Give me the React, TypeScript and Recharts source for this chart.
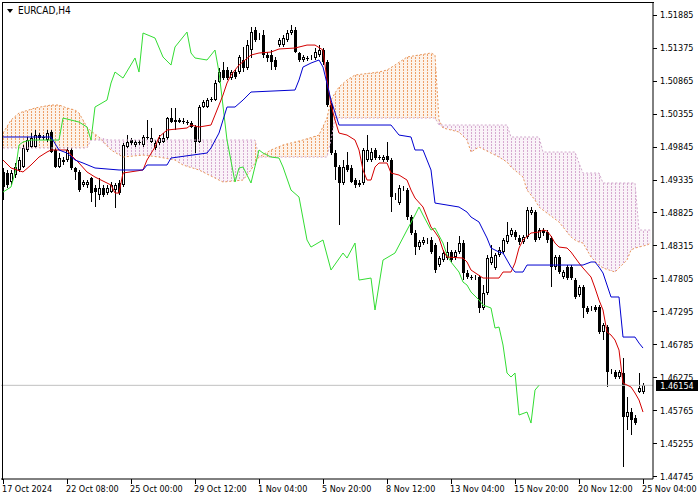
import React from 'react';
import { ComposedChart, Bar, Line, Area, XAxis, YAxis, ReferenceLine } from 'recharts';

// EURCAD H4 candles, bar 0 = left edge of the window
const opens = [
  1.49451, 1.49435, 1.49296, 1.49404, 1.49482, 1.49528, 1.49791, 1.49837, 1.49837, 1.50022,
  1.49992, 1.49945, 1.50069, 1.49791, 1.49528, 1.49605, 1.49636, 1.49791, 1.49513, 1.49451,
  1.49250, 1.49250, 1.49358, 1.49203, 1.49095, 1.49203, 1.49126, 1.49141, 1.49172, 1.49281,
  1.49250, 1.49837, 1.49945, 1.49868, 1.49914, 1.49868, 1.49992, 1.49914, 1.49822, 1.49899,
  1.49914, 1.49976, 1.50285, 1.50223, 1.50254, 1.50239, 1.50223, 1.50208, 1.50146, 1.49914,
  1.50455, 1.50455, 1.50579, 1.50563, 1.50842, 1.51027, 1.51027, 1.50903, 1.50996, 1.50996,
  1.51182, 1.51058, 1.51336, 1.51645, 1.51522, 1.51568, 1.51259, 1.51259, 1.51182, 1.51413,
  1.51413, 1.51491, 1.51599, 1.51645, 1.51290, 1.51182, 1.51213, 1.51213, 1.51213, 1.51259,
  1.51336, 1.51151, 1.50486, 1.49744, 1.49528, 1.49281, 1.49559, 1.49513, 1.49327, 1.49250,
  1.49281, 1.49636, 1.49636, 1.49791, 1.49682, 1.49636, 1.49698, 1.49636, 1.49064, 1.48971,
  1.49188, 1.49172, 1.48755, 1.48508, 1.48291, 1.48353, 1.48369, 1.48400, 1.48322, 1.48013,
  1.48090, 1.48121, 1.48214, 1.48137, 1.48214, 1.48353, 1.47890, 1.47828, 1.47812, 1.47828,
  1.47349, 1.47580, 1.48044, 1.47967, 1.48168, 1.48214, 1.48369, 1.48477, 1.48523, 1.48431,
  1.48369, 1.48446, 1.48817, 1.48832, 1.48431, 1.48554, 1.48523, 1.48431, 1.47982, 1.48137,
  1.47828, 1.47982, 1.47982, 1.47781, 1.47550, 1.47673, 1.47349, 1.47333, 1.47364, 1.47364,
  1.46978, 1.47055, 1.46359, 1.46359, 1.46282, 1.46344, 1.45664, 1.45741, 1.45648, 1.46050,
  1.46050,
];
const highs = [
  1.49513, 1.49482, 1.49482, 1.49590, 1.49682, 1.49868, 1.49992, 1.50053, 1.50100, 1.50053,
  1.50022, 1.50100, 1.50100, 1.49822, 1.49744, 1.49682, 1.49837, 1.49822, 1.49528, 1.49482,
  1.49327, 1.49327, 1.49373, 1.49250, 1.49358, 1.49250, 1.49250, 1.49296, 1.49281, 1.49327,
  1.49899, 1.50022, 1.49976, 1.49945, 1.49945, 1.50022, 1.50254, 1.50131, 1.49945, 1.50022,
  1.50053, 1.50301, 1.50440, 1.50440, 1.50285, 1.50285, 1.50254, 1.50239, 1.50177, 1.50486,
  1.50563, 1.50594, 1.50610, 1.50873, 1.51058, 1.51151, 1.51073, 1.51027, 1.51027, 1.51259,
  1.51383, 1.51491, 1.51692, 1.51692, 1.51599, 1.51645, 1.51305, 1.51336, 1.51228, 1.51522,
  1.51568, 1.51645, 1.51723, 1.51692, 1.51305, 1.51259, 1.51243, 1.51259, 1.51367, 1.51413,
  1.51367, 1.51182, 1.50517, 1.49791, 1.49559, 1.49636, 1.49760, 1.49559, 1.49358, 1.49327,
  1.49822, 1.50022, 1.49822, 1.49822, 1.49713, 1.49713, 1.49914, 1.49667, 1.49126, 1.49250,
  1.49234, 1.49203, 1.48786, 1.48554, 1.48400, 1.48446, 1.48431, 1.48446, 1.48353, 1.48152,
  1.48245, 1.48369, 1.48245, 1.48245, 1.48461, 1.48400, 1.47936, 1.47859, 1.47859, 1.47859,
  1.47704, 1.48168, 1.48322, 1.48199, 1.48291, 1.48431, 1.48678, 1.48585, 1.48554, 1.48477,
  1.48477, 1.48910, 1.48910, 1.48863, 1.48585, 1.48585, 1.48554, 1.48461, 1.48168, 1.48168,
  1.47936, 1.48013, 1.48013, 1.47812, 1.47704, 1.47704, 1.47380, 1.47380, 1.47395, 1.47395,
  1.47117, 1.47086, 1.46406, 1.46390, 1.46390, 1.46576, 1.45973, 1.45803, 1.45695, 1.46344,
  1.46189,
];
const lows = [
  1.49018, 1.49203, 1.49250, 1.49358, 1.49451, 1.49513, 1.49760, 1.49822, 1.49822, 1.49945,
  1.49945, 1.49914, 1.49744, 1.49513, 1.49513, 1.49559, 1.49605, 1.49482, 1.49327, 1.49141,
  1.49219, 1.49203, 1.48987, 1.48910, 1.49018, 1.49064, 1.49095, 1.49126, 1.48894, 1.49095,
  1.49219, 1.49822, 1.49868, 1.49837, 1.49868, 1.49837, 1.49945, 1.49899, 1.49791, 1.49868,
  1.49899, 1.49945, 1.50208, 1.50100, 1.50208, 1.50193, 1.50177, 1.50131, 1.49744, 1.49899,
  1.50440, 1.50440, 1.50532, 1.50548, 1.50826, 1.50873, 1.50873, 1.50873, 1.50888, 1.50965,
  1.50996, 1.51027, 1.51213, 1.51460, 1.51491, 1.51213, 1.51151, 1.51027, 1.51027, 1.51383,
  1.51383, 1.51460, 1.51568, 1.51290, 1.51151, 1.51151, 1.51166, 1.51182, 1.51182, 1.51228,
  1.51104, 1.50455, 1.49713, 1.49327, 1.48631, 1.49250, 1.49451, 1.49281, 1.49203, 1.49219,
  1.49250, 1.49605, 1.49605, 1.49636, 1.49636, 1.49605, 1.49605, 1.48832, 1.49018, 1.48940,
  1.49157, 1.48709, 1.48477, 1.48168, 1.48245, 1.48322, 1.48338, 1.48183, 1.47890, 1.47982,
  1.48060, 1.48090, 1.48060, 1.48090, 1.48183, 1.47781, 1.47797, 1.47781, 1.47781, 1.47271,
  1.47318, 1.47550, 1.48013, 1.47936, 1.48137, 1.48183, 1.48338, 1.48446, 1.48400, 1.48322,
  1.48338, 1.48415, 1.48786, 1.48369, 1.48400, 1.48461, 1.48353, 1.47673, 1.47936, 1.47874,
  1.47797, 1.47781, 1.47781, 1.47488, 1.47519, 1.47194, 1.47256, 1.47302, 1.47287, 1.46947,
  1.46854, 1.46128, 1.46329, 1.46251, 1.46251, 1.44891, 1.45463, 1.45386, 1.45540, 1.46035,
  1.46019,
];
const closes = [
  1.49219, 1.49250, 1.49435, 1.49528, 1.49636, 1.49822, 1.49945, 1.49976, 1.50022, 1.49976,
  1.49976, 1.50053, 1.49760, 1.49528, 1.49667, 1.49636, 1.49791, 1.49513, 1.49451, 1.49172,
  1.49296, 1.49296, 1.49126, 1.49141, 1.49203, 1.49095, 1.49203, 1.49250, 1.49250, 1.49126,
  1.49868, 1.49914, 1.49899, 1.49914, 1.49899, 1.49992, 1.49976, 1.49976, 1.49899, 1.49976,
  1.49976, 1.50285, 1.50223, 1.50254, 1.50223, 1.50223, 1.50208, 1.50146, 1.49914, 1.50455,
  1.50532, 1.50563, 1.50563, 1.50826, 1.50996, 1.50903, 1.50903, 1.50996, 1.50919, 1.51228,
  1.51058, 1.51413, 1.51614, 1.51491, 1.51537, 1.51259, 1.51213, 1.51151, 1.51073, 1.51491,
  1.51522, 1.51599, 1.51645, 1.51305, 1.51182, 1.51228, 1.51197, 1.51228, 1.51305, 1.51336,
  1.51151, 1.50486, 1.49744, 1.49528, 1.49281, 1.49528, 1.49482, 1.49296, 1.49250, 1.49281,
  1.49791, 1.49791, 1.49760, 1.49667, 1.49667, 1.49682, 1.49636, 1.49064, 1.49080, 1.49203,
  1.49203, 1.48755, 1.48508, 1.48291, 1.48369, 1.48400, 1.48384, 1.48214, 1.47936, 1.48121,
  1.48199, 1.48214, 1.48090, 1.48214, 1.48353, 1.47890, 1.47828, 1.47812, 1.47828, 1.47349,
  1.47580, 1.48121, 1.48137, 1.48168, 1.48245, 1.48400, 1.48477, 1.48554, 1.48446, 1.48369,
  1.48446, 1.48863, 1.48863, 1.48400, 1.48554, 1.48508, 1.48400, 1.47982, 1.48137, 1.47905,
  1.47905, 1.47812, 1.47812, 1.47519, 1.47673, 1.47349, 1.47287, 1.47349, 1.47318, 1.46978,
  1.47086, 1.46359, 1.46375, 1.46282, 1.46359, 1.45664, 1.45741, 1.45618, 1.45571, 1.46112,
  1.46154,
];

// Ichimoku lines, [bar, price]
const tenkanPts: [number, number][] = [
  [0, 1.49636], [2, 1.49513], [5, 1.49451], [7, 1.49559], [9, 1.49682], [11, 1.4976], [12, 1.49791],
  [16, 1.49791], [17, 1.49713], [19, 1.4959], [21, 1.49451], [23, 1.49373], [27, 1.4925], [28, 1.49126],
  [29, 1.49126], [30, 1.49435], [35, 1.49482], [36, 1.49636], [38, 1.49837], [39, 1.49992], [41, 1.501],
  [46, 1.50131], [47, 1.50177], [49, 1.50146], [52, 1.50177], [53, 1.50331], [54, 1.50486], [55, 1.50641],
  [56, 1.50826], [57, 1.5095], [59, 1.51104], [62, 1.51259], [64, 1.5129], [67, 1.51305], [69, 1.51352],
  [73, 1.51367], [76, 1.51413], [78, 1.51413], [80, 1.51336], [81, 1.50873], [82, 1.50486], [83, 1.50254],
  [84, 1.50053], [86, 1.50022], [88, 1.49945], [89, 1.49791], [90, 1.49482], [91, 1.49327], [92, 1.49327],
  [93, 1.49528], [94, 1.4959], [96, 1.4959], [97, 1.49435], [99, 1.49404], [101, 1.49327], [102, 1.49172],
  [103, 1.49049], [105, 1.4891], [106, 1.48755], [107, 1.48601], [108, 1.48523], [109, 1.48431],
  [110, 1.48245], [111, 1.48137], [115, 1.48121], [116, 1.4806], [117, 1.47936], [120, 1.47812],
  [124, 1.47812], [125, 1.47905], [127, 1.47905], [128, 1.48044], [129, 1.48276], [130, 1.484],
  [132, 1.48508], [134, 1.48523], [135, 1.48554], [136, 1.48539], [137, 1.48461], [138, 1.48353],
  [139, 1.48291], [141, 1.48276], [142, 1.48214], [144, 1.48044], [145, 1.47967], [147, 1.47828],
  [148, 1.47658], [149, 1.47472], [150, 1.47318], [151, 1.46978], [152, 1.46931], [153, 1.46854],
  [154, 1.46699], [155, 1.46189], [156, 1.46158], [157, 1.46128], [158, 1.46035], [159, 1.45927],
  [160, 1.45741],
];
const kijunPts: [number, number][] = [
  [0, 1.49992], [12, 1.49992], [14, 1.49791], [16, 1.49744], [18, 1.49636], [20, 1.4959], [23, 1.49513],
  [29, 1.49482], [35, 1.49482], [36, 1.49559], [41, 1.49559], [42, 1.49667], [51, 1.49744], [52, 1.49822],
  [54, 1.50053], [56, 1.50455], [58, 1.50455], [60, 1.50563], [62, 1.50687], [73, 1.50718], [74, 1.50873],
  [75, 1.51073], [77, 1.51135], [79, 1.51182], [80, 1.51073], [82, 1.50563], [84, 1.50177], [97, 1.50177],
  [99, 1.50022], [102, 1.49992], [103, 1.49791], [105, 1.49791], [107, 1.49482], [108, 1.48971],
  [114, 1.4891], [116, 1.48832], [117, 1.48755], [119, 1.48678], [120, 1.48554], [121, 1.48431],
  [122, 1.48276], [124, 1.48214], [125, 1.48199], [127, 1.47982], [128, 1.47905], [130, 1.47905],
  [131, 1.48013], [145, 1.48013], [147, 1.4806], [148, 1.4806], [149, 1.47982], [150, 1.4789],
  [151, 1.47704], [152, 1.47519], [154, 1.47519], [155, 1.469], [158, 1.469], [159, 1.46807], [160, 1.4673],
];
const chikouPts: [number, number][] = [
  [0, 1.49141], [2, 1.49219], [3, 1.49435], [4, 1.49868], [5, 1.49914], [7, 1.49945], [14, 1.49945],
  [15, 1.50285], [19, 1.50223], [21, 1.50146], [22, 1.49945], [23, 1.50455], [26, 1.50563], [27, 1.50826],
  [28, 1.50996], [30, 1.50903], [33, 1.51213], [34, 1.50996], [35, 1.51599], [38, 1.51522], [40, 1.51228],
  [42, 1.51104], [43, 1.51383], [46, 1.51614], [47, 1.5129], [48, 1.51213], [51, 1.51182], [53, 1.51336],
  [54, 1.50996], [56, 1.49945], [58, 1.49296], [59, 1.49513], [60, 1.49528], [61, 1.49404], [62, 1.49281],
  [64, 1.49791], [65, 1.49744], [67, 1.49682], [69, 1.49667], [70, 1.49528], [72, 1.49172], [74, 1.49064],
  [76, 1.484], [77, 1.48291], [80, 1.484], [82, 1.47936], [85, 1.48199], [86, 1.48121], [88, 1.48353],
  [89, 1.47781], [92, 1.47812], [93, 1.47318], [95, 1.4809], [98, 1.48199], [101, 1.48554], [103, 1.48786],
  [104, 1.4891], [105, 1.48786], [107, 1.48554], [108, 1.48585], [110, 1.48353], [111, 1.48168],
  [112, 1.4806], [114, 1.47905], [115, 1.4775], [116, 1.47704], [117, 1.47596], [119, 1.47472],
  [120, 1.47395], [122, 1.47349], [123, 1.47039], [124, 1.47055], [125, 1.46777], [126, 1.46344],
  [127, 1.46282], [128, 1.46344], [129, 1.45695], [131, 1.45741], [132, 1.45571], [133, 1.4608],
  [134, 1.46154],
];

// Kumo, shifted 26 bars ahead
const cloudBars = [
  0, 2, 4, 8, 12, 14, 16, 18, 19, 21, 22, 24, 27, 30, 35, 39, 43, 45, 49, 53, 55, 60, 62, 63, 64, 67, 70,
  75, 79, 81, 82, 83, 84, 86, 88, 94, 96, 98, 101, 107, 108, 109, 110, 114, 116, 117, 119, 122, 124, 126,
  127, 130, 131, 133, 134, 135, 139, 142, 143, 144, 145, 147, 149, 150, 153, 156, 157, 158, 159, 161, 162,
];
const spanA = [
  1.50053, 1.50254, 1.50363, 1.5044, 1.50486, 1.50486, 1.5044, 1.50409, 1.50363, 1.50146, 1.50084,
  1.49992, 1.49791, 1.49682, 1.49713, 1.49682, 1.49636, 1.49559, 1.49482, 1.49358, 1.49296, 1.49327,
  1.49482, 1.4959, 1.49682, 1.49791, 1.49868, 1.49945, 1.50022, 1.50285, 1.50563, 1.50672, 1.50764,
  1.50873, 1.5095, 1.50996, 1.51027, 1.51104, 1.51228, 1.5129, 1.51259, 1.50254, 1.50131, 1.50069,
  1.49945, 1.4976, 1.49837, 1.49744, 1.49682, 1.49605, 1.49528, 1.49373, 1.49172, 1.49018, 1.4891,
  1.48863, 1.48678, 1.48446, 1.484, 1.48369, 1.48353, 1.48137, 1.48013, 1.47967, 1.47905, 1.4809,
  1.48245, 1.48276, 1.48291, 1.48322, 1.48353,
];
const spanB = [
  1.49822, 1.49822, 1.49822, 1.49822, 1.49822, 1.49822, 1.49822, 1.49822, 1.49822, 1.49822, 1.49945,
  1.49945, 1.49945, 1.49945, 1.49945, 1.49945, 1.49945, 1.49945, 1.49945, 1.49945, 1.49945, 1.49945,
  1.49945, 1.49945, 1.49682, 1.49682, 1.49682, 1.49682, 1.49682, 1.49682, 1.49945, 1.50285, 1.50285,
  1.50285, 1.50285, 1.50285, 1.50285, 1.50285, 1.50285, 1.50285, 1.50285, 1.50177, 1.50177, 1.50177,
  1.50177, 1.50177, 1.50177, 1.50177, 1.50177, 1.50177, 1.49992, 1.49992, 1.49992, 1.49992, 1.49992,
  1.4976, 1.4976, 1.4976, 1.4976, 1.4959, 1.49435, 1.49435, 1.49435, 1.49281, 1.49281, 1.49281,
  1.49281, 1.49281, 1.48554, 1.48554, 1.48554,
];

const xTickBars = [0, 16, 32, 48, 64, 80, 96, 112, 128, 144, 160];
const xTickLabels = [
  '17 Oct 2024', '22 Oct 08:00', '25 Oct 00:00', '29 Oct 12:00', '1 Nov 04:00', '5 Nov 20:00',
  '8 Nov 12:00', '13 Nov 04:00', '15 Nov 20:00', '20 Nov 12:00', '25 Nov 04:00',
];
const yTicks = [
  1.44745, 1.45255, 1.45765, 1.46275, 1.46785, 1.47295, 1.47805, 1.48315, 1.48825, 1.49335, 1.49845,
  1.50355, 1.50865, 1.51375, 1.51885,
];
const lastPrice = 1.46154;
const BAR_SLOTS = 163;

const FONT = "'DejaVu Sans Condensed', 'DejaVu Sans', sans-serif";

const rows: any[] = Array.from({ length: BAR_SLOTS }, (_, i) => ({ i }));
opens.forEach((o, i) => {
  rows[i].o = o;
  rows[i].h = highs[i];
  rows[i].l = lows[i];
  rows[i].c = closes[i];
  rows[i].hl = [lows[i], highs[i]];
});
tenkanPts.forEach(([b, v]) => (rows[b].tenkan = v));
kijunPts.forEach(([b, v]) => (rows[b].kijun = v));
chikouPts.forEach(([b, v]) => (rows[b].chikou = v));

// split the cloud into runs of one colour
const kumoRuns: { key: string; up: boolean }[] = [];
let prevUp: boolean | null = null;
cloudBars.forEach((b, k) => {
  rows[b].spanA = spanA[k];
  rows[b].spanB = spanB[k];
  const up = spanA[k] >= spanB[k];
  if (up !== prevUp) {
    const key = 'kumo' + kumoRuns.length;
    kumoRuns.push({ key, up });
    if (k > 0) {
      const pb = cloudBars[k - 1];
      rows[pb][key] = [Math.min(spanA[k - 1], spanB[k - 1]), Math.max(spanA[k - 1], spanB[k - 1])];
    }
    prevUp = up;
  }
  rows[b][kumoRuns[kumoRuns.length - 1].key] = [Math.min(spanA[k], spanB[k]), Math.max(spanA[k], spanB[k])];
});

const Candle = (props: any) => {
  const { x, y, width, height, payload } = props;
  if (payload == null || payload.o == null) return null;
  const top = Math.min(y, y + height);
  const bottom = Math.max(y, y + height);
  const range = payload.h - payload.l || 1;
  const toY = (p: number) => top + ((payload.h - p) / range) * (bottom - top);
  const cx = Math.floor(x + width / 2);
  const up = payload.c >= payload.o;
  const bTop = Math.round(toY(Math.max(payload.o, payload.c)));
  const bBot = Math.round(toY(Math.min(payload.o, payload.c)));
  const bh = Math.max(1, bBot - bTop);
  const wTop = Math.round(top);
  const wh = Math.max(1, Math.round(bottom) - wTop);
  return (
    <g>
      <rect x={cx} y={wTop} width={1} height={wh} fill="#000" />
      {up ? (
        <rect x={cx - 0.5} y={bTop + 0.5} width={2} height={Math.max(bh - 1, 0)} fill="#fff" stroke="#000" strokeWidth={1} />
      ) : (
        <rect x={cx - 1} y={bTop} width={3} height={bh} fill="#000" />
      )}
    </g>
  );
};

const TimeTick = (props: any) => {
  const { x, y, payload } = props;
  const k = xTickBars.indexOf(payload.value);
  if (k < 0) return null;
  const px = Math.floor(x) + 0.5;
  return (
    <g>
      <line x1={px} x2={px} y1={y} y2={y + 5} stroke="#000" />
      <text x={Math.floor(x) - 1} y={y + 13} fontSize={9} fontFamily={FONT} fill="#000" textAnchor="start">
        {xTickLabels[k]}
      </text>
    </g>
  );
};

const PriceTick = (props: any) => {
  const { x, y, payload } = props;
  const py = Math.round(y) + 0.5;
  return (
    <g>
      <line x1={x} x2={x + 4} y1={py} y2={py} stroke="#000" />
      <text x={x + 7} y={y + 3.5} fontSize={9} fontFamily={FONT} fill="#000" textAnchor="start">
        {payload.value.toFixed(5)}
      </text>
    </g>
  );
};

const PriceBox = (props: any) => {
  const vb = props.viewBox || {};
  const bx = vb.x + vb.width + 3;
  const by = Math.round(vb.y) - 5;
  return (
    <g>
      <rect x={bx} y={by} width={42} height={11} fill="#000" />
      <text x={bx + 21} y={by + 8.5} fontSize={9} fontFamily={FONT} fill="#fff" textAnchor="middle">
        {lastPrice.toFixed(5)}
      </text>
    </g>
  );
};

export default function App() {
  return (
    <div style={{ position: 'fixed', left: 0, top: 0, width: 700, height: 500, background: '#fff' }}>
      <ComposedChart width={700} height={500} data={rows} margin={{ top: 3, right: 0, left: 1, bottom: 0 }}>
        <defs>
          <pattern id="kumoUp" x={3} y={0} width={4} height={3} patternUnits="userSpaceOnUse">
            <rect x={0} y={0} width={4} height={3} fill="#FDF3EA" />
            <rect x={0} y={0} width={1} height={2} fill="#EE9F68" />
          </pattern>
          <pattern id="kumoDown" x={3} y={0} width={4} height={3} patternUnits="userSpaceOnUse">
            <rect x={0} y={0} width={4} height={3} fill="#FAF3F8" />
            <rect x={0} y={0} width={1} height={2} fill="#D6A9D0" />
          </pattern>
        </defs>
        <XAxis
          dataKey="i"
          interval={15}
          tickSize={0}
          tickMargin={0}
          tickLine={false}
          tick={<TimeTick />}
          axisLine={{ stroke: '#000' }}
          height={21}
        />
        <YAxis
          orientation="right"
          type="number"
          domain={[1.44706, 1.52063]}
          allowDataOverflow
          ticks={yTicks}
          tickSize={0}
          tickMargin={0}
          tickLine={false}
          tick={<PriceTick />}
          axisLine={{ stroke: '#000' }}
          width={47}
        />
        {kumoRuns.map((r) => (
          <Area
            key={r.key}
            type="linear"
            dataKey={r.key}
            stroke="none"
            fill={r.up ? 'url(#kumoUp)' : 'url(#kumoDown)'}
            fillOpacity={1}
            connectNulls
            dot={false}
            activeDot={false}
            isAnimationActive={false}
          />
        ))}
        <Line type="linear" dataKey="spanA" stroke="#E8965A" strokeDasharray="2 2" dot={false} activeDot={false} connectNulls isAnimationActive={false} />
        <Line type="linear" dataKey="spanB" stroke="#D2AACD" strokeDasharray="2 2" dot={false} activeDot={false} connectNulls isAnimationActive={false} />
        <ReferenceLine y={lastPrice} stroke="#c0c0c0" label={<PriceBox />} />
        <Bar dataKey="hl" barSize={3} shape={<Candle />} isAnimationActive={false} />
        <Line type="linear" dataKey="chikou" stroke="#33dd33" dot={false} activeDot={false} connectNulls isAnimationActive={false} />
        <Line type="linear" dataKey="tenkan" stroke="#d40000" dot={false} activeDot={false} connectNulls isAnimationActive={false} />
        <Line type="linear" dataKey="kijun" stroke="#0000d0" dot={false} activeDot={false} connectNulls isAnimationActive={false} />
      </ComposedChart>
      <svg width={700} height={500} style={{ position: 'absolute', left: 0, top: 0, pointerEvents: 'none' }}>
        <line x1={2.5} x2={2.5} y1={2} y2={480} stroke="#000" />
        <line x1={2} x2={654} y1={2.5} y2={2.5} stroke="#000" />
        <polygon points="7,9 13,9 10,13" fill="#000" />
        <text x={18} y={14} fontSize={10} fontFamily={FONT} fill="#000">EURCAD,H4</text>
      </svg>
    </div>
  );
}
